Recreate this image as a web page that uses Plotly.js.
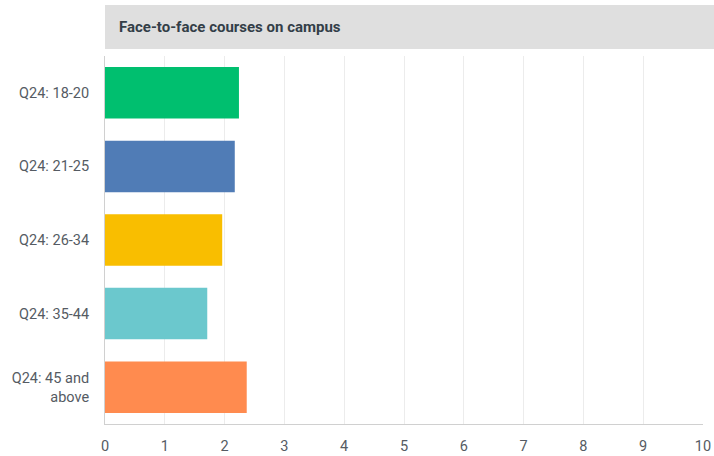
<!DOCTYPE html>
<html>
<head>
<meta charset="utf-8">
<script src="https://cdn.plot.ly/plotly-3.0.1.min.js"></script>
<style>html,body{margin:0;padding:0;background:#fff;}#chart{width:714px;height:456px;}</style>
</head>
<body>
<div id="chart"></div>
<script>
const categories = ["Q24: 18-20", "Q24: 21-25", "Q24: 26-34", "Q24: 35-44", "Q24: 45 and<br>above"];
const values = [2.24, 2.17, 1.96, 1.71, 2.37];
const barColors = ["#00bf6f", "#507cb6", "#f9be00", "#6bc8cd", "#ff8b4f"];
const xTicks = [0, 1, 2, 3, 4, 5, 6, 7, 8, 9, 10];
const chartTitle = "Face-to-face courses on campus";

const trace = {
  type: "bar",
  orientation: "h",
  x: values,
  y: categories,
  marker: {color: barColors},
  hoverinfo: "x+y"
};

const layout = {
  width: 714,
  height: 456,
  margin: {l: 105, r: 11, t: 56, b: 32},
  paper_bgcolor: "#ffffff",
  plot_bgcolor: "#ffffff",
  font: {family: "Roboto, 'Open Sans', sans-serif", size: 14.5, color: "#555b63"},
  bargap: 0.3,
  showlegend: false,
  xaxis: {
    range: [0, 10],
    tickvals: xTicks,
    ticktext: xTicks.map(String),
    showgrid: true,
    gridcolor: "#ececec",
    gridwidth: 1,
    zeroline: false,
    showline: true,
    linecolor: "#d0d0d0",
    linewidth: 1,
    ticks: "",
    ticklabelstandoff: 9,
    fixedrange: true,
    tickfont: {size: 14.5, color: "#555b63"}
  },
  yaxis: {
    autorange: "reversed",
    type: "category",
    showgrid: false,
    zeroline: false,
    showline: true,
    linecolor: "#d0d0d0",
    linewidth: 1,
    ticks: "",
    ticklabelstandoff: 12,
    fixedrange: true,
    tickfont: {size: 14.5, color: "#555b63"}
  },
  shapes: [{
    type: "rect",
    xref: "paper", yref: "paper",
    x0: 0, x1: 1.0184,
    y0: 1.019, y1: 1.1386,
    fillcolor: "#dfdfdf",
    line: {width: 0},
    layer: "below"
  }],
  annotations: [{
    text: "<b>" + chartTitle + "</b>",
    xref: "paper", yref: "paper",
    x: 0.02, y: 1.079,
    xanchor: "left", yanchor: "middle",
    showarrow: false,
    font: {size: 15, color: "#333e48", family: "Roboto, 'Open Sans', sans-serif"}
  }]
};

Plotly.newPlot("chart", [trace], layout, {displayModeBar: false, responsive: false});
</script>
</body>
</html>
